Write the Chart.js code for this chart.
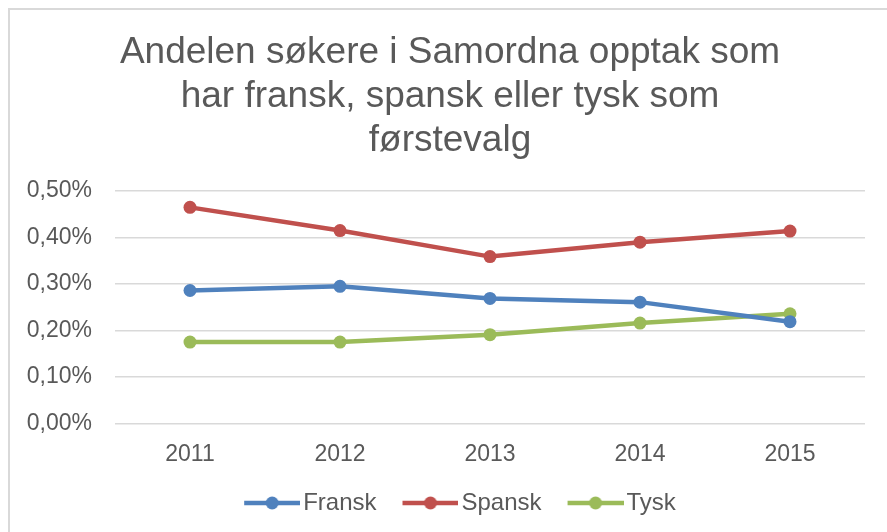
<!DOCTYPE html>
<html>
<head>
<meta charset="utf-8">
<script src="https://cdn.jsdelivr.net/npm/chart.js@4"></script>
<style>
  html, body { margin: 0; padding: 0; background: #fff; overflow: hidden; }
  .frame { position: absolute; left: 8px; top: 8px; width: 900px; height: 560px;
           border-left: 2px solid #d9d9d9; border-top: 2px solid #d9d9d9; }
  .wrap { position: absolute; left: 0; top: 0; width: 887px; height: 532px; }
</style>
</head>
<body>
<div class="frame"></div>
<div class="wrap"><canvas id="andelChart"></canvas></div>
<script>
// data (percent of applicants)
var years = ['2011', '2012', '2013', '2014', '2015'];
var fransk = [0.286, 0.295, 0.269, 0.261, 0.219];
var spansk = [0.465, 0.415, 0.359, 0.390, 0.414];
var tysk = [0.175, 0.175, 0.191, 0.216, 0.236];
var yTicks = [0, 0.1, 0.2, 0.3, 0.4, 0.5];

var titleLines = ['Andelen søkere i Samordna opptak som', 'har fransk, spansk eller tysk som', 'førstevalg'];
var textColor = '#595959';
var fontFamily = '"Liberation Sans", Arial, sans-serif';

// small line+dot image used as the legend marker
function legendMarker(color) {
    var c = document.createElement('canvas');
    c.width = 85;
    c.height = 14;
    var g = c.getContext('2d');
    g.strokeStyle = color;
    g.lineWidth = 4.5;
    g.lineCap = 'butt';
    g.beginPath();
    g.moveTo(29, 7);
    g.lineTo(85, 7);
    g.stroke();
    g.fillStyle = color;
    g.beginPath();
    g.arc(57, 7, 6.5, 0, Math.PI * 2);
    g.fill();
    return c;
}

function makeSet(label, data, color) {
    return {
        label: label,
        data: data,
        borderColor: color,
        backgroundColor: color,
        borderWidth: 4.5,
        pointRadius: 6.5,
        pointHoverRadius: 6.5,
        pointBorderWidth: 0,
        tension: 0,
        pointStyle: 'circle',
        legendMarker: legendMarker(color)
    };
}

// y labels hang a bit left of the narrow axis box; widen the clip area for them
var labelRoom = {
    id: 'labelRoom',
    afterLayout: function(chart) {
        chart.scales.y.left = 0;
    }
};

document.addEventListener('DOMContentLoaded', function() {
    var ctx = document.getElementById('andelChart').getContext('2d');

    new Chart(ctx, {
        type: 'line',
        data: {
            labels: years,
            datasets: [
                makeSet('Fransk', fransk, '#4f81bd'),
                makeSet('Spansk', spansk, '#c0504d'),
                makeSet('Tysk', tysk, '#9bbb59')
            ]
        },
        plugins: [labelRoom],
        options: {
            responsive: true,
            maintainAspectRatio: false,
            animation: false,
            layout: { padding: { left: 35, right: 22, top: 31, bottom: 7 } },
            plugins: {
                title: {
                    display: true,
                    text: titleLines,
                    color: textColor,
                    font: { family: fontFamily, size: 37, weight: 'normal', lineHeight: 1.19 },
                    padding: { top: 0, bottom: 28 }
                },
                legend: {
                    position: 'bottom',
                    labels: {
                        usePointStyle: true,
                        pointStyleWidth: 67,
                        color: textColor,
                        padding: 6,
                        font: { family: fontFamily, size: 24 },
                        generateLabels: function(chart) {
                            var items = Chart.defaults.plugins.legend.labels.generateLabels(chart);
                            items.forEach(function(it) {
                                it.pointStyle = chart.data.datasets[it.datasetIndex].legendMarker;
                            });
                            return items;
                        }
                    }
                },
                tooltip: { enabled: false }
            },
            scales: {
                x: {
                    offset: true,
                    grid: { display: false, drawTicks: false },
                    border: { display: false },
                    ticks: {
                        color: textColor,
                        padding: 17,
                        font: { family: fontFamily, size: 23 }
                    }
                },
                y: {
                    min: 0,
                    max: 0.5,
                    afterBuildTicks: function(axis) {
                        axis.ticks = yTicks.map(function(v) { return { value: v }; });
                    },
                    afterFit: function(axis) {
                        axis.width = 80;
                    },
                    grid: { color: '#d9d9d9', lineWidth: 1.5, drawTicks: false },
                    border: { display: false },
                    ticks: {
                        color: textColor,
                        padding: 23,
                        font: { family: fontFamily, size: 23 },
                        callback: function(v) { return v.toFixed(2).replace('.', ',') + '%'; }
                    }
                }
            }
        }
    });
});
</script>
</body>
</html>
